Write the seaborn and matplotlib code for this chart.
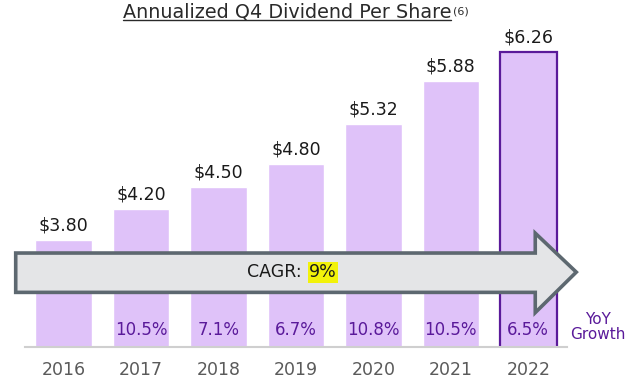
import matplotlib
matplotlib.use("Agg")
import matplotlib.pyplot as plt
import matplotlib.patches as mpatches
import matplotlib.transforms as mtransforms
import seaborn as sns

years = ["2016", "2017", "2018", "2019", "2020", "2021", "2022"]
dividend = [3.80, 4.20, 4.50, 4.80, 5.32, 5.88, 6.26]
yoy_growth = ["", "10.5%", "7.1%", "6.7%", "10.8%", "10.5%", "6.5%"]
cagr_label = "9%"

BAR = "#dfc2f9"
PURPLE = "#5a1a9a"
ARROW_FILL = "#e4e5e7"
ARROW_EDGE = "#5d6870"

sns.set_theme(style="white")
plt.rcParams["font.family"] = ["DejaVu Sans"]

fig = plt.figure(figsize=(6.4, 3.8), dpi=100)
ax = fig.add_axes([25 / 640, 33 / 380, 542 / 640, 327 / 380])

sns.barplot(x=years, y=dividend, color=BAR, width=0.73, saturation=1, ax=ax, zorder=1)
ax.set_xlim(-0.5, 6.5)
ax.set_ylim(2.40, 6.68)

# highlight latest year
last = ax.patches[-1]
last.set_edgecolor(PURPLE)
last.set_linewidth(1.6)

for i, v in enumerate(dividend):
    ax.annotate(f"${v:.2f}", (i, v), xytext=(0, 4), textcoords="offset points",
                ha="center", va="bottom", fontsize=12.5, color="#1a1a1a")

blend = mtransforms.blended_transform_factory(ax.transData, ax.transAxes)
for i, g in enumerate(yoy_growth):
    if g:
        ax.text(i, 0.052, g, transform=blend, ha="center", va="center",
                fontsize=12, color=PURPLE, zorder=4)
ax.text(6.9, 0.06, "YoY\nGrowth", transform=blend, ha="center", va="center",
        fontsize=11, color=PURPLE, linespacing=1.0, clip_on=False)

# CAGR arrow
arrow = mpatches.Polygon(
    [(-0.62, 3.63), (6.09, 3.63), (6.09, 3.89), (6.62, 3.38),
     (6.09, 2.85), (6.09, 3.115), (-0.62, 3.115)],
    closed=True, facecolor=ARROW_FILL, edgecolor=ARROW_EDGE, linewidth=2.6,
    joinstyle="miter", zorder=3, clip_on=False)
ax.add_patch(arrow)
ax.text(3.14, 3.38, "CAGR: ", ha="right", va="center", fontsize=12.5,
        color="#1a1a1a", zorder=5)
ax.text(3.17, 3.38, cagr_label, ha="left", va="center", fontsize=12.5,
        color="#1a1a1a", zorder=5,
        bbox=dict(boxstyle="square,pad=0.08", facecolor="#f2f20a", edgecolor="none"))

for s in ["top", "right", "left"]:
    ax.spines[s].set_visible(False)
ax.spines["bottom"].set_color("#cfcfcf")
ax.spines["bottom"].set_linewidth(1.5)
ax.set_yticks([])
ax.tick_params(axis="x", length=0, pad=10, labelsize=12.5, labelcolor="#5a5a5a")
ax.set_xlabel("")
ax.set_ylabel("")

# title with underline and footnote marker
title = fig.text(287 / 640, 1 - 17 / 380, "Annualized Q4 Dividend Per Share",
                 ha="center", va="baseline", fontsize=13.8, color="#2a2a2a")
fig.canvas.draw()
bb = title.get_window_extent().transformed(fig.transFigure.inverted())
base_y = 1 - 20 / 380
fig.add_artist(plt.Line2D([bb.x0, bb.x1], [base_y, base_y],
                          transform=fig.transFigure, color="#2a2a2a", linewidth=1.0))
fig.text(bb.x1 + 0.003, 1 - 6 / 380, "(6)", ha="left", va="top", fontsize=8, color="#2a2a2a")

fig.savefig("out.png", dpi=100)
